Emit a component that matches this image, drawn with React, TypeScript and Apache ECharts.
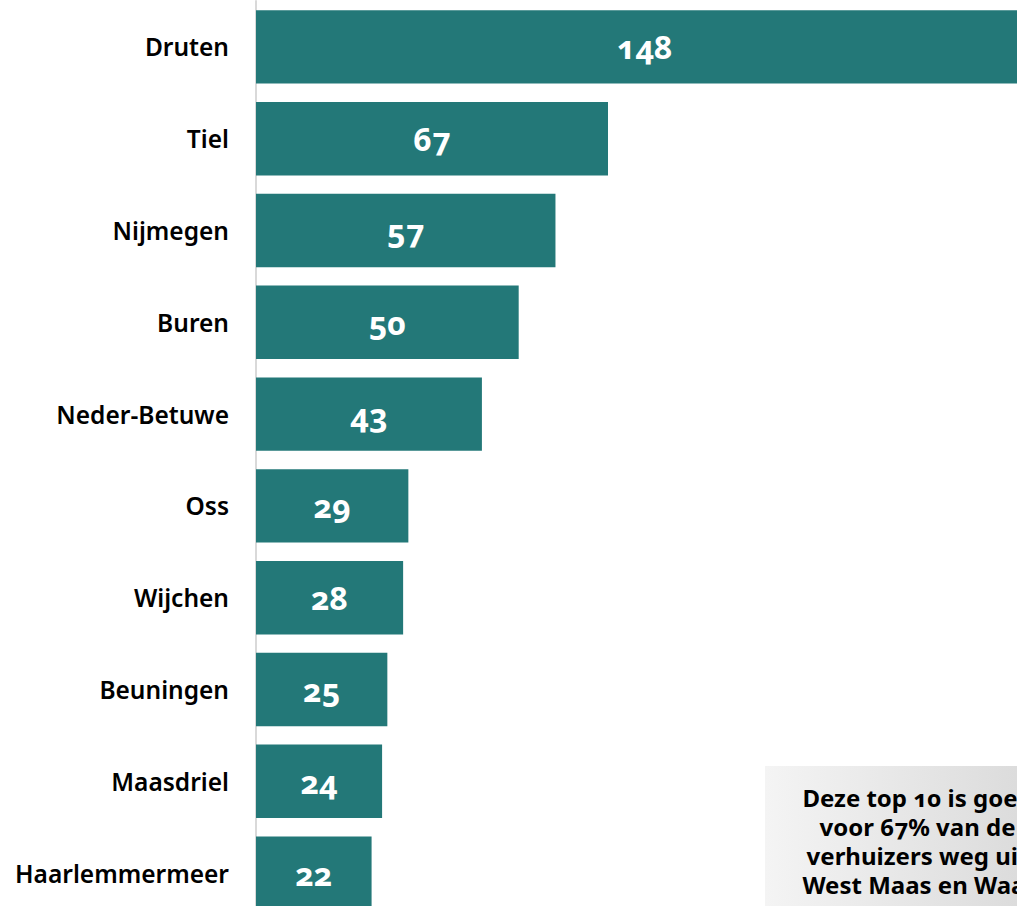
import React, { useEffect, useRef } from "react";
import * as echarts from "echarts";

const categories = ["Druten", "Tiel", "Nijmegen", "Buren", "Neder-Betuwe", "Oss", "Wijchen", "Beuningen", "Maasdriel", "Haarlemmermeer"];
const values = [148, 67, 57, 50, 43, 29, 28, 25, 24, 22];
const noteLines = ["Deze top 10 is goed", "voor 67% van de", "verhuizers weg uit", "West Maas en Waal"];

export default function App() {
  const ref = useRef<HTMLDivElement>(null);
  useEffect(() => {
    if (!ref.current) return;
    const chart = echarts.init(ref.current, undefined, { renderer: "svg" });
    chart.setOption({
      animation: false,
      grid: { left: 256, top: 1, height: 918, width: 840.6 },
      xAxis: {
        type: "value",
        min: 0,
        max: 160,
        show: false,
        splitLine: { show: false },
      },
      yAxis: {
        type: "category",
        data: categories,
        inverse: true,
        offset: 1,
        axisLine: { show: true, lineStyle: { color: "#d9d9d9", width: 2 } },
        axisTick: { show: false },
        axisLabel: {
          color: "#000",
          fontFamily: "Noto Sans",
          fontWeight: 600,
          fontSize: 24.5,
          margin: 26,
        },
      },
      series: [
        {
          type: "bar",
          data: values,
          barCategoryGap: "20%",
          itemStyle: { color: "#237878" },
          label: {
            show: true,
            position: "inside",
            color: "#fff",
            fontFamily: "Noto Sans",
            fontWeight: "bold",
            fontSize: 32,
          },
        },
      ],
      graphic: [
        {
          type: "rect",
          shape: { x: 765, y: 766, width: 335, height: 200 },
          style: {
            fill: new echarts.graphic.LinearGradient(0, 0, 1, 0, [
              { offset: 0, color: "#f4f4f4" },
              { offset: 1, color: "#d4d4d4" },
            ]),
          },
          z: 10,
        },
        {
          type: "text",
          x: 917.5,
          y: 840.5,
          style: {
            text: noteLines.join("\n"),
            fill: "#000",
            font: "bold 24px 'Noto Sans'",
            align: "center",
            verticalAlign: "middle",
            lineHeight: 29,
          },
          z: 11,
        },
      ],
    });
    return () => chart.dispose();
  }, []);
  return (
    <div style={{ position: "fixed", left: 0, top: 0, width: 1017, height: 906, overflow: "hidden", background: "#fff" }}>
      <style>{`svg text { font-variant-numeric: oldstyle-nums !important; font-feature-settings: "onum" 1 !important; }`}</style>
      <div ref={ref} style={{ width: 1100, height: 930 }} />
    </div>
  );
}
